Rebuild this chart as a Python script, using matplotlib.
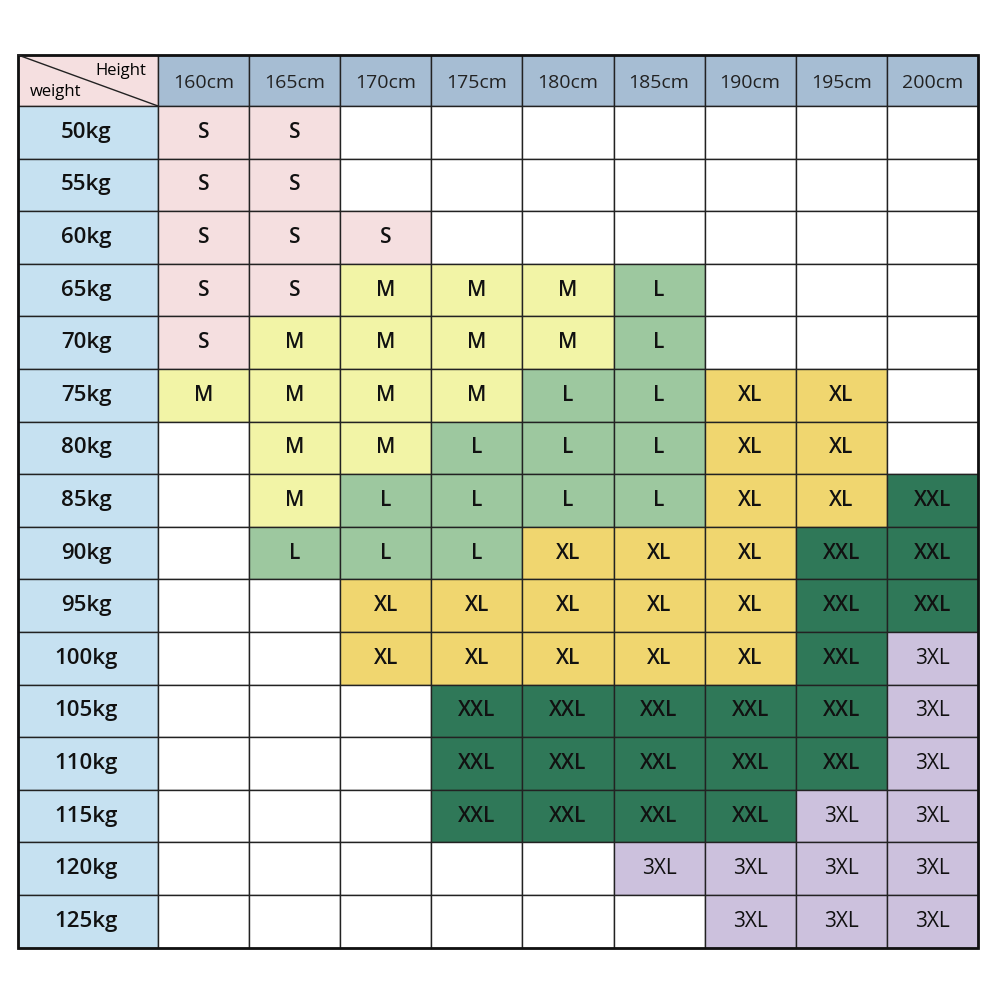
"""Size chart: recommended size by height and weight."""

import matplotlib.pyplot as plt
from matplotlib.patches import Rectangle

HEIGHTS = ["160cm", "165cm", "170cm", "175cm", "180cm", "185cm", "190cm", "195cm", "200cm"]
WEIGHTS = ["50kg", "55kg", "60kg", "65kg", "70kg", "75kg", "80kg", "85kg",
           "90kg", "95kg", "100kg", "105kg", "110kg", "115kg", "120kg", "125kg"]

SIZES = [
    ["S", "S", "", "", "", "", "", "", ""],
    ["S", "S", "", "", "", "", "", "", ""],
    ["S", "S", "S", "", "", "", "", "", ""],
    ["S", "S", "M", "M", "M", "L", "", "", ""],
    ["S", "M", "M", "M", "M", "L", "", "", ""],
    ["M", "M", "M", "M", "L", "L", "XL", "XL", ""],
    ["", "M", "M", "L", "L", "L", "XL", "XL", ""],
    ["", "M", "L", "L", "L", "L", "XL", "XL", "XXL"],
    ["", "L", "L", "L", "XL", "XL", "XL", "XXL", "XXL"],
    ["", "", "XL", "XL", "XL", "XL", "XL", "XXL", "XXL"],
    ["", "", "XL", "XL", "XL", "XL", "XL", "XXL", "3XL"],
    ["", "", "", "XXL", "XXL", "XXL", "XXL", "XXL", "3XL"],
    ["", "", "", "XXL", "XXL", "XXL", "XXL", "XXL", "3XL"],
    ["", "", "", "XXL", "XXL", "XXL", "XXL", "3XL", "3XL"],
    ["", "", "", "", "", "3XL", "3XL", "3XL", "3XL"],
    ["", "", "", "", "", "", "3XL", "3XL", "3XL"],
]

SIZE_COLORS = {
    "": "white",
    "S": "#f5dfe0",
    "M": "#f2f4a6",
    "L": "#9dc89f",
    "XL": "#f0d66f",
    "XXL": "#2f7858",
    "3XL": "#ccc1dd",
}

HEADER_COLOR = "#a6bdd3"
WEIGHT_COLOR = "#c6e1f1"
CORNER_COLOR = "#f5dfe0"

LEFT, TOP = 18, 55
FIRST_W, CELL_W = 140, 91.1
HEADER_H, CELL_H = 51, 52.6


def cell(ax, x, y, w, h, color):
    ax.add_patch(Rectangle((x, y), w, h, facecolor=color, edgecolor="#222222", linewidth=1.0))


def main() -> None:
    plt.rcParams["font.family"] = ["Open Sans", "DejaVu Sans"]
    fig = plt.figure(figsize=(10, 10), dpi=100)
    ax = fig.add_axes([0, 0, 1, 1])
    ax.set_xlim(0, 1000)
    ax.set_ylim(1000, 0)
    ax.axis("off")

    # corner cell with the diagonal
    cell(ax, LEFT, TOP, FIRST_W, HEADER_H, CORNER_COLOR)
    ax.plot([LEFT, LEFT + FIRST_W], [TOP, TOP + HEADER_H], color="#222222", lw=1)
    ax.text(LEFT + FIRST_W - 12, TOP + 16, "Height", ha="right", va="center", fontsize=12)
    ax.text(LEFT + 12, TOP + 37, "weight", ha="left", va="center", fontsize=12)

    for j, h in enumerate(HEIGHTS):
        x = LEFT + FIRST_W + j * CELL_W
        cell(ax, x, TOP, CELL_W, HEADER_H, HEADER_COLOR)
        ax.text(x + CELL_W / 2, TOP + HEADER_H / 2 + 2, h, ha="center", va="center",
                fontsize=14, color="#222222")

    for i, w in enumerate(WEIGHTS):
        y = TOP + HEADER_H + i * CELL_H
        cell(ax, LEFT, y, FIRST_W, CELL_H, WEIGHT_COLOR)
        ax.text(LEFT + FIRST_W / 2 - 2, y + CELL_H / 2, w, ha="center", va="center",
                fontsize=16, fontweight="semibold", color="#111111")
        for j, size in enumerate(SIZES[i]):
            x = LEFT + FIRST_W + j * CELL_W
            cell(ax, x, y, CELL_W, CELL_H, SIZE_COLORS[size])
            if size:
                weight = "normal" if size == "3XL" else "semibold"
                ax.text(x + CELL_W / 2, y + CELL_H / 2, size, ha="center", va="center",
                        fontsize=15, fontweight=weight, color="#111111")

    # thick outer border
    total_w = FIRST_W + len(HEIGHTS) * CELL_W
    total_h = HEADER_H + len(WEIGHTS) * CELL_H
    ax.add_patch(Rectangle((LEFT, TOP), total_w, total_h, fill=False,
                           edgecolor="#111111", linewidth=2))

    fig.savefig("out.png", dpi=100)
    plt.close(fig)


if __name__ == "__main__":
    main()
